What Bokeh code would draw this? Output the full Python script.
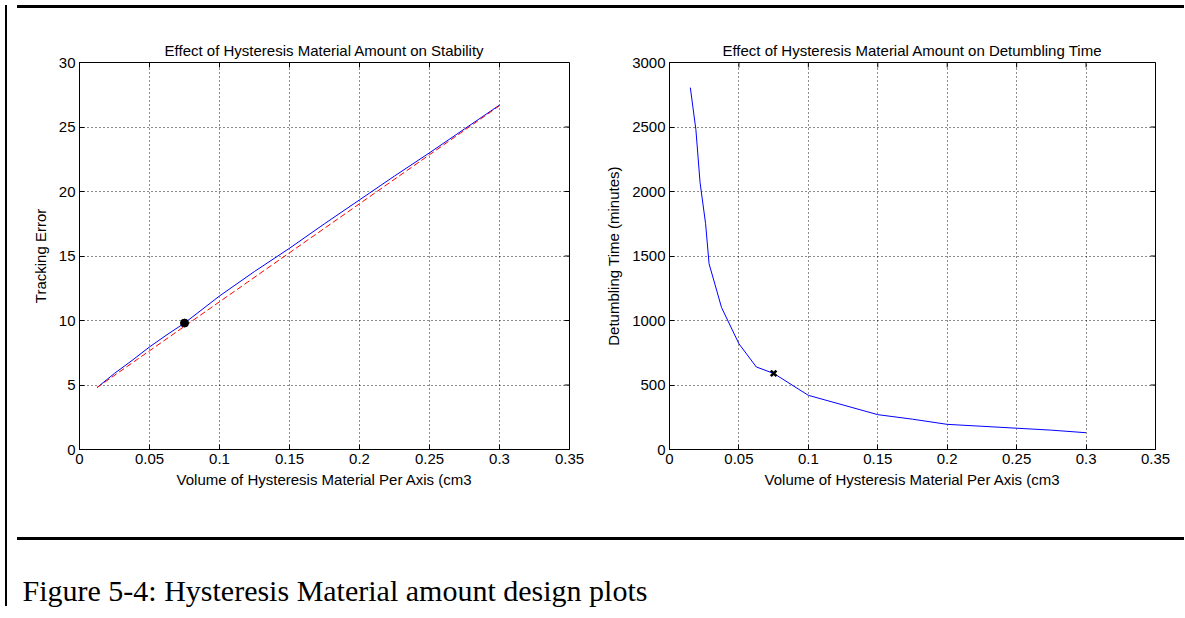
import math
from bokeh.plotting import figure
from bokeh.models import Range1d, FixedTicker, Div
from bokeh.layouts import row, column
from bokeh.embed import file_html
from bokeh.resources import INLINE
from bokeh.core.properties import value

# ---------------- data ----------------
vol_stab = [0.0125, 0.025, 0.0375, 0.05, 0.0625, 0.075, 0.1, 0.125, 0.15, 0.175, 0.2, 0.225, 0.25, 0.275, 0.3]
track_err = [4.8, 5.9, 6.9, 7.95, 8.9, 9.8, 11.9, 13.8, 15.6, 17.5, 19.35, 21.2, 23.0, 24.85, 26.7]
vol_fit = [0.0125, 0.05, 0.1, 0.15, 0.2, 0.25, 0.3]
track_fit = [4.8, 7.65, 11.45, 15.25, 19.05, 22.85, 26.65]
design_vol = [0.075]
design_err = [9.8]

vol_det = [0.015, 0.019, 0.022, 0.026, 0.0285, 0.0375, 0.05, 0.0625, 0.075, 0.1, 0.125, 0.15, 0.175, 0.2, 0.225, 0.25, 0.275, 0.3]
det_time = [2805, 2480, 2070, 1750, 1440, 1100, 820, 640, 590, 420, 345, 270, 235, 195, 180, 165, 150, 130]
design_det = [590]

x_ticks = [0, 0.05, 0.1, 0.15, 0.2, 0.25, 0.3, 0.35]
x_tick_labels = ["0", "0.05", "0.1", "0.15", "0.2", "0.25", "0.3", "0.35"]
err_ticks = [0, 5, 10, 15, 20, 25, 30]
det_ticks = [0, 500, 1000, 1500, 2000, 2500, 3000]

title_left = "Effect of Hysteresis Material Amount on Stability"
title_right = "Effect of Hysteresis Material Amount on Detumbling Time"
xlabel = "Volume of Hysteresis Material Per Axis (cm3"
ylabel_left = "Tracking Error"
ylabel_right = "Detumbling Time (minutes)"
caption = ["Figure 5-4: Hysteresis Material amount design plots"]

FONT = "Liberation Sans"
FS = "15px"


def style(p, yticks, xmax, ymax):
    p.title.text_font = FONT
    p.title.text_font_size = FS
    p.title.text_font_style = "normal"
    p.title.align = "center"
    p.title.text_color = "black"
    p.title.standoff = 8
    p.background_fill_color = "white"
    p.border_fill_color = "white"
    p.outline_line_color = "black"
    p.outline_line_alpha = 1
    p.xaxis.ticker = FixedTicker(ticks=x_ticks)
    p.xaxis.major_label_overrides = dict(zip(x_ticks, x_tick_labels))
    p.yaxis.ticker = FixedTicker(ticks=yticks)
    for ax in (p.xaxis[0], p.yaxis[0]):
        ax.axis_line_color = "black"
        ax.major_tick_line_color = "black"
        ax.major_tick_in = 5
        ax.major_tick_out = 0
        ax.minor_tick_line_color = None
        ax.major_label_text_font = FONT
        ax.major_label_text_font_size = FS
        ax.major_label_text_color = "black"
        ax.axis_label_text_font = FONT
        ax.axis_label_text_font_size = FS
        ax.axis_label_text_font_style = "normal"
        ax.axis_label_text_color = "black"
        ax.major_label_standoff = 4
    p.xaxis.axis_label_standoff = 4
    p.yaxis.axis_label_standoff = 7
    p.yaxis.formatter.use_scientific = False
    for g, t in ((p.xgrid[0], x_ticks), (p.ygrid[0], yticks)):
        g.ticker = FixedTicker(ticks=t)
        g.grid_line_color = "black"
        g.grid_line_dash = "1 3"
        g.grid_line_width = 1
        g.grid_line_alpha = 0.9
    # inward tick marks on the top and right edges of the box
    p.ray(x=x_ticks, y=[ymax] * len(x_ticks), length=5, length_units="screen",
          angle=-math.pi / 2, line_color="black", line_width=1)
    p.ray(x=[xmax] * len(yticks), y=yticks, length=5, length_units="screen",
          angle=math.pi, line_color="black", line_width=1)


p1 = figure(width=590, height=519, x_range=Range1d(0, 0.35), y_range=Range1d(0, 30),
            title=title_left, x_axis_label=xlabel, y_axis_label=ylabel_left,
            output_backend="svg", toolbar_location=None,
            min_border_left=67, min_border_right=33, min_border_top=49, min_border_bottom=83)
style(p1, err_ticks, 0.35, 30)
p1.line(vol_stab, track_err, line_color="#0000ff", line_width=1)
p1.line(vol_fit, track_fit, line_color="#ff0000", line_width=1, line_dash="6 3")
p1.scatter(design_vol, design_err, size=8, color="black", marker="circle")

p2 = figure(width=577, height=519, x_range=Range1d(0, 0.35), y_range=Range1d(0, 3000),
            title=title_right, x_axis_label=xlabel, y_axis_label=ylabel_right,
            output_backend="svg", toolbar_location=None,
            min_border_left=63, min_border_right=24, min_border_top=49, min_border_bottom=83)
style(p2, det_ticks, 0.35, 3000)
p2.line(vol_det, det_time, line_color="#0000ff", line_width=1)
p2.scatter(design_vol, design_det, size=8, line_color="black", marker="x", line_width=2.5)

pc = figure(width=1167, height=76, x_range=Range1d(0, 1167), y_range=Range1d(0, 76),
            x_axis_type=None, y_axis_type=None, output_backend="svg", toolbar_location=None,
            min_border=0)
pc.outline_line_color = None
pc.grid.visible = False
pc.text(x=[10], y=[31], text=caption, text_font=value("Liberation Serif"),
        text_font_size="30px", text_baseline="alphabetic", text_color="black")

vline = Div(width=2, height=601, styles={"background-color": "black"})
hline_top = Div(width=1167, height=3, styles={"background-color": "black"})
hline_mid = Div(width=1167, height=3, styles={"background-color": "black"})

layout = row(vline, column(hline_top, row(p1, p2), hline_mid, pc))

open("out.html", "w").write(file_html(layout, INLINE))
